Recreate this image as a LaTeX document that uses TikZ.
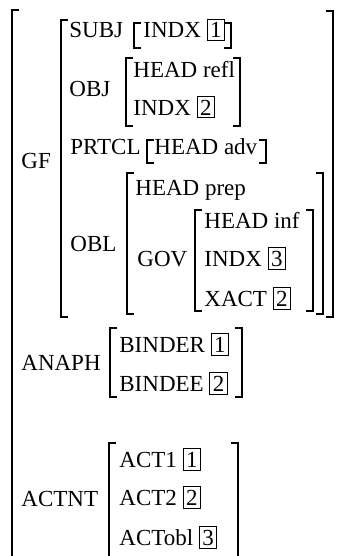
\documentclass[tikz,border=0pt]{standalone}
\usepackage{fontspec}
\setmainfont{Liberation Serif}
\usetikzlibrary{positioning}
\tikzset{
  feat/.style={anchor=base west, inner sep=0pt, font=\fontsize{11.5}{14}\selectfont},
  brk/.style={line width=0.6pt, line join=miter},
}
\newcommand{\tagno}[1]{{\setlength{\fboxsep}{1.25pt}\setlength{\fboxrule}{0.45pt}\fbox{#1}}}
% left x, right x, top y, bottom y
\newcommand{\avmbrk}[4]{%
  \draw[brk] (#1+7,#3) -- (#1,#3) -- (#1,#4) -- (#1+7,#4);
  \draw[brk] (#2-7,#3) -- (#2,#3) -- (#2,#4) -- (#2-7,#4);
}

\begin{document}
\begin{tikzpicture}[x=0.5pt, y=-0.5pt]
    \useasboundingbox (0,0) rectangle (338,556);
    \clip (0,0) rectangle (338,556);
    % --- outer matrix ---
    \draw[brk] (19,10) -- (12,10) -- (12,570);
    \draw[brk] (326,11) -- (333,11) -- (333,317) -- (326,317);
    % --- GF ---
    \node[feat] (gf) at (21,168) {GF};
    \draw[brk] (68,20) -- (61,20) -- (61,317) -- (68,317);
    \node[feat] (subj) at (69,38) {SUBJ};
    \node[feat] (subjindx) at (143,38) {INDX \tagno{1}};
    \avmbrk{134}{231}{23}{48}
    \node[feat] (obj) at (69,97) {OBJ};
    \node[feat] (objhead) at (133,77) {HEAD refl};
    \node[feat] (objindx) at (133,115) {INDX \tagno{2}};
    \avmbrk{126}{240}{58}{126}
    \node[feat] (prtcl) at (70,155) {PRTCL};
    \node[feat] (prtclhead) at (154,155) {HEAD adv};
    \avmbrk{147}{266}{140}{163}
    \node[feat] (obl) at (70,251) {OBL};
    \node[feat] (oblhead) at (135,195) {HEAD prep};
    \avmbrk{127}{323}{173}{314}
    \node[feat] (gov) at (137,266) {GOV};
    \node[feat] (govhead) at (204,228) {HEAD inf};
    \node[feat] (govindx) at (204,266) {INDX \tagno{3}};
    \node[feat] (govxact) at (204,306) {XACT \tagno{2}};
    \avmbrk{195}{313}{210}{311}
    % --- ANAPH ---
    \node[feat] (anaph) at (21,370) {ANAPH};
    \node[feat] (binder) at (119,352) {BINDER \tagno{1}};
    \node[feat] (bindee) at (119,391) {BINDEE \tagno{2}};
    \avmbrk{110}{242}{328}{397}
    % --- ACTNT ---
    \node[feat] (actnt) at (21,506) {ACTNT};
    \node[feat] (actone) at (119,467) {ACT1 \tagno{1}};
    \node[feat] (acttwo) at (119,505) {ACT2 \tagno{2}};
    \node[feat] (actobl) at (119,545) {ACTobl \tagno{3}};
    \avmbrk{109}{238}{443}{570}
\end{tikzpicture}
\end{document}
